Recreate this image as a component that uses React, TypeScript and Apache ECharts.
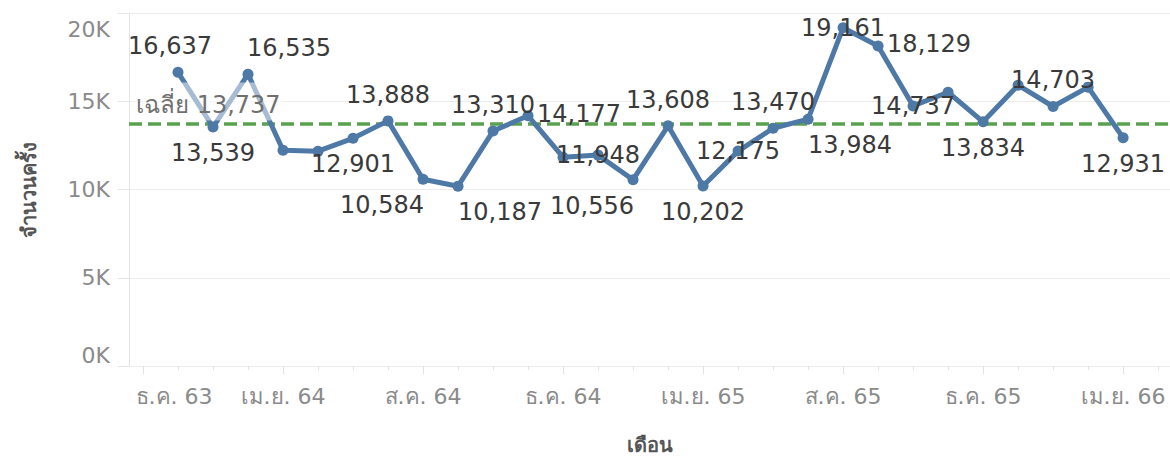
import React, { useEffect, useRef } from "react";
import * as echarts from "echarts";

// ---- data ----
const months = [
  "ม.ค. 64", "ก.พ. 64", "มี.ค. 64", "เม.ย. 64", "พ.ค. 64", "มิ.ย. 64", "ก.ค. 64", "ส.ค. 64",
  "ก.ย. 64", "ต.ค. 64", "พ.ย. 64", "ธ.ค. 64", "ม.ค. 65", "ก.พ. 65", "มี.ค. 65", "เม.ย. 65",
  "พ.ค. 65", "มิ.ย. 65", "ก.ค. 65", "ส.ค. 65", "ก.ย. 65", "ต.ค. 65", "พ.ย. 65", "ธ.ค. 65",
  "ม.ค. 66", "ก.พ. 66", "มี.ค. 66", "เม.ย. 66",
];
const values = [
  16637, 13539, 16535, 12220, 12170, 12901, 13888, 10584, 10187, 13310, 14177, 11830, 11948, 10556,
  13608, 10202, 12175, 13470, 13984, 19161, 18129, 14737, 15510, 13834, 15910, 14703, 15800, 12931,
];
// x-axis tick labels every 4 months, starting at ธ.ค. 63 (position 0)
const tickLabels = ["ธ.ค. 63", "เม.ย. 64", "ส.ค. 64", "ธ.ค. 64", "เม.ย. 65", "ส.ค. 65", "ธ.ค. 65", "เม.ย. 66"];

// ---- label layout (style, not data) ----
const LAYOUT: Record<string, [number, number]> = {
  upleft: [-8, -26],
  above: [0, -26],
  below: [0, 26],
  upright: [41, -26],
  downright: [42, 26],
  downleft: [-41, 26],
  right: [51, -2],
  center: [0, 0],
};
const labelLayout: (string | null)[] = [
  "upleft", "below", "upright", null, null, "below", "above", "downleft", "downright", "above",
  "right", null, "center", "downleft", "above", "below", "center", "above", "downright", "center",
  "right", "center", null, "below", null, "above", null, "below",
];

const FONT = '"DejaVu Sans", "Noto Sans", sans-serif';
const fmt = (v: number) => Math.round(v).toLocaleString("en-US");

export default function App() {
  const ref = useRef<HTMLDivElement>(null);
  useEffect(() => {
    if (!ref.current) return;
    const chart = echarts.init(ref.current, undefined, { renderer: "svg" });
    const avg = values.reduce((a, b) => a + b, 0) / values.length;
    const firstPos = 1; // ม.ค. 64 is one month after ธ.ค. 63
    const data = values.map((v, i) => {
      const lay = labelLayout[i];
      return {
        value: [i + firstPos, v],
        name: months[i],
        label: lay
          ? { show: true, position: "inside", offset: LAYOUT[lay] }
          : { show: false },
      };
    });
    const allMonths = Array.from({ length: 30 }, (_, i) => i);
    const majorMonths = tickLabels.map((_, i) => i * 4);
    const xLabelStyle = { color: "#8a8a8a", fontSize: 22, fontFamily: FONT };
    chart.setOption({
      animation: false,
      backgroundColor: "#ffffff",
      grid: {
        left: 129,
        right: 0,
        top: 13,
        bottom: 93,
        containLabel: false,
        outerBoundsMode: "none",
      },
      xAxis: [
        {
          type: "value",
          min: -0.4,
          max: 29.34,
          position: "bottom",
          axisLine: { show: false },
          splitLine: { show: false },
          axisTick: {
            show: true,
            customValues: majorMonths,
            length: 8,
            lineStyle: { color: "#e2e2e2", width: 1 },
          },
          axisLabel: {
            customValues: majorMonths,
            formatter: (v: number) => {
              const i = Math.round(v / 4);
              return i === 0 ? `{first|${tickLabels[0]}}` : `{n|${tickLabels[i] ?? ""}}`;
            },
            ...xLabelStyle,
            margin: 19,
            rich: {
              first: { ...xLabelStyle, padding: [0, 0, 0, 62] },
              n: { ...xLabelStyle },
            },
          },
          name: "เดือน",
          nameLocation: "middle",
          nameGap: 68,
          nameTextStyle: {
            color: "#555555",
            fontSize: 20,
            lineHeight: 22,
            fontWeight: "bold",
            fontFamily: FONT,
          },
        },
        {
          type: "value",
          min: -0.4,
          max: 29.34,
          position: "bottom",
          axisLine: { show: false },
          splitLine: { show: false },
          axisLabel: { show: false },
          axisTick: {
            show: true,
            customValues: allMonths,
            length: 4,
            lineStyle: { color: "#e2e2e2", width: 1 },
          },
        },
      ],
      yAxis: {
        type: "value",
        min: 0,
        max: 20000,
        interval: 5000,
        axisLine: { show: true, onZero: false, lineStyle: { color: "#e4e4e4", width: 1 } },
        axisTick: { show: true, length: 11, lineStyle: { color: "#e4e4e4" } },
        splitLine: { show: true, lineStyle: { color: "#ececec", width: 1 } },
        axisLabel: {
          formatter: (v: number) => `${v / 1000}K`,
          color: "#8a8a8a",
          fontSize: 22,
          fontFamily: FONT,
          margin: 19,
          padding: [5, 0, 0, 0],
          verticalAlignMaxLabel: "top",
          verticalAlignMinLabel: "bottom",
        },
        name: "จำนวนครั้ง",
        nameLocation: "middle",
        nameRotate: 90,
        nameGap: 90,
        nameTextStyle: { color: "#555555", fontSize: 20, fontWeight: "bold", fontFamily: FONT },
      },
      series: [
        {
          type: "line",
          xAxisIndex: 0,
          z: 2,
          data,
          symbol: "circle",
          symbolSize: 11,
          showAllSymbol: true,
          lineStyle: { color: "#4e79a7", width: 5 },
          itemStyle: { color: "#4e79a7" },
          label: {
            color: "#3a3a3a",
            fontSize: 24,
            fontFamily: FONT,
            formatter: (p: any) => fmt(p.value[1]),
          },
          markLine: {
            z: 1,
            silent: true,
            symbol: "none",
            label: { show: false },
            lineStyle: { color: "#59a14f", width: 3.5, type: [13, 6] },
            data: [{ yAxis: avg }],
          },
        },
        {
          type: "line",
          xAxisIndex: 0,
          z: 3,
          silent: true,
          data: values.map((v, i) => [i + firstPos, v]),
          symbol: "none",
          lineStyle: { color: "rgba(0,0,0,0)", width: 0 },
          markLine: {
            z: 6,
            silent: true,
            symbol: "none",
            lineStyle: { color: "rgba(0,0,0,0)", width: 1, type: "solid" },
            label: {
              show: true,
              position: "insideStartTop",
              distance: 3,
              formatter: () => `เฉลี่ย ${fmt(avg)}`,
              color: "#6f6f6f",
              fontSize: 24,
              fontFamily: FONT,
              backgroundColor: "rgba(255,255,255,0.5)",
              padding: [10, 4, 4, 4],
            },
            data: [{ yAxis: avg }],
          },
        },
      ],
    });
    return () => chart.dispose();
  }, []);
  return (
    <div
      ref={ref}
      style={{ position: "fixed", left: 0, top: 0, width: 1170, height: 459, background: "#fff" }}
    />
  );
}
